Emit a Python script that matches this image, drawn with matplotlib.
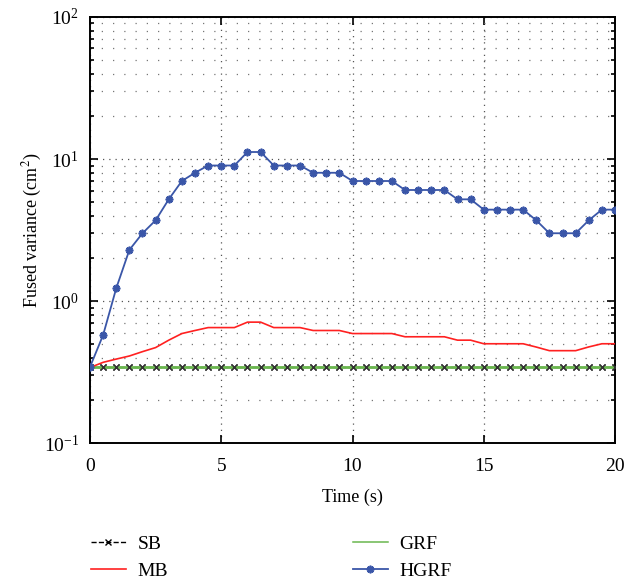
import numpy as np
import matplotlib.pyplot as plt

plt.rcParams['font.family'] = ['Liberation Serif', 'DejaVu Serif']
plt.rcParams['mathtext.fontset'] = 'stix'

# time axis, one sample every 0.5 s
t = np.arange(0, 20.01, 0.5)

sb = [0.343] * 41
grf = [0.343] * 41
mb = [0.34, 0.37, 0.39, 0.41, 0.44, 0.47, 0.53, 0.59, 0.62, 0.65,
      0.65, 0.65, 0.71, 0.71, 0.65, 0.65, 0.65, 0.62, 0.62, 0.62,
      0.59, 0.59, 0.59, 0.59, 0.56, 0.56, 0.56, 0.56, 0.53, 0.53,
      0.50, 0.50, 0.50, 0.50, 0.474, 0.447, 0.447, 0.447, 0.475, 0.50,
      0.50]
hgrf = [0.343, 0.576, 1.23, 2.29, 3.0, 3.7, 5.2, 7.0, 8.0, 9.0,
        9.0, 9.0, 11.2, 11.2, 9.0, 9.0, 9.0, 8.0, 8.0, 8.0,
        7.0, 7.0, 7.0, 7.0, 6.05, 6.05, 6.05, 6.05, 5.2, 5.2,
        4.4, 4.4, 4.4, 4.4, 3.7, 3.0, 3.0, 3.0, 3.7, 4.4,
        4.4]

ast = (8, 2, 0)  # matlab-like asterisk

fig = plt.figure(figsize=(6.36, 5.82), dpi=100)
ax = fig.add_axes([0.1415, 0.2388, 0.8255, 0.732])

l_sb, = ax.plot(t, sb, '--', color='black', lw=1.0, marker='x', ms=4,
                mew=1.0, label='SB', zorder=1)
l_grf, = ax.plot(t, grf, '-', color='#6ab74e', lw=2.0, label='GRF', zorder=2)
ax.plot(t, sb, ls='none', color='#333333', marker='x', ms=4, mew=1.0, zorder=4)
l_mb, = ax.plot(t, mb, '-', color='#ff2020', lw=1.2, label='MB', zorder=3)
l_hg, = ax.plot(t, hgrf, '-', color='#3a56a8', lw=1.3, marker=ast, ms=5.5,
                mew=1.3, label='HGRF', zorder=5)

ax.set_yscale('log')
ax.set_ylim(0.1, 100)
ax.set_xlim(0, 20)
ax.set_xticks([0, 5, 10, 15, 20])

ax.grid(True, which='major', axis='both', color='#555555', lw=0.9, ls=(0, (1, 4)))
ax.grid(True, which='minor', axis='y', color='#777777', lw=0.9, ls=(0, (1, 8)))

ax.tick_params(which='both', direction='in', top=True, right=True, labelsize=14,
               width=1.2)
ax.tick_params(which='major', length=6)
ax.tick_params(which='minor', length=3)
ax.tick_params(axis='x', pad=11)
ax.tick_params(axis='y', pad=8)
for s in ax.spines.values():
    s.set_linewidth(1.4)

ax.set_xlabel('Time (s)', fontsize=13, labelpad=10)
ax.set_ylabel('Fused variance (cm$^2$)', fontsize=13, labelpad=0)

leg = fig.legend([l_sb, l_mb, l_grf, l_hg], ['SB', 'MB', 'GRF', 'HGRF'],
                 ncol=2, loc='lower left', bbox_to_anchor=(0.115, -0.026),
                 frameon=False, fontsize=14, columnspacing=9.5, handlelength=1.8,
                 handletextpad=0.6, labelspacing=0.45, numpoints=1)
leg.get_lines()[2].set_linewidth(1.1)

fig.savefig('out.png', dpi=100)
